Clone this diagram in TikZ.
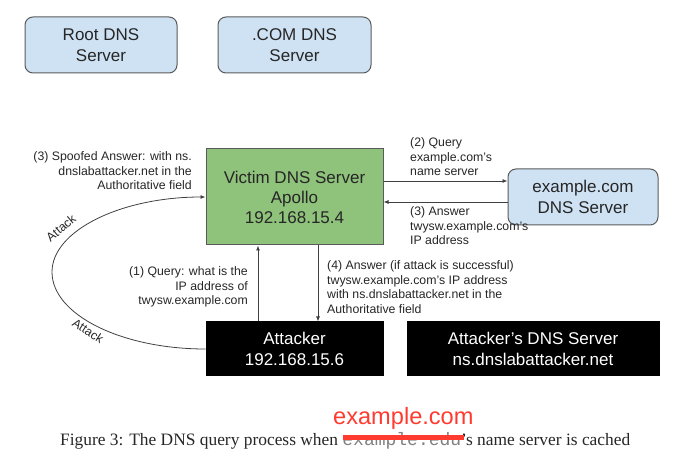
\documentclass[tikz,border=0pt]{standalone}
\usepackage{fontspec}
\setmainfont{Liberation Sans}
\setmonofont{Liberation Mono}
\newfontfamily\capfont{Liberation Serif}
\usetikzlibrary{arrows.meta}
\definecolor{dblue}{HTML}{CFE2F3}
\definecolor{dgreen}{HTML}{8FC27B}
\definecolor{dborder}{HTML}{5A5A5A}
\definecolor{dline}{HTML}{404040}
\definecolor{dtext}{HTML}{262626}
\definecolor{dred}{HTML}{FF3B30}
\definecolor{dgray}{HTML}{808080}
\tikzset{
  srvbox/.style={draw=dborder, fill=dblue, rounded corners=8pt, line width=1pt,
                 align=center, text=dtext, inner sep=0pt,
                 font=\fontsize{17}{21}\selectfont},
  vicbox/.style={draw=dborder, fill=dgreen, line width=1pt,
                 align=center, text=dtext, inner sep=0pt,
                 font=\fontsize{17}{20}\selectfont},
  blkbox/.style={draw=black, fill=black, text=white, line width=1pt,
                 align=center, inner sep=0pt,
                 font=\fontsize{17}{21}\selectfont},
  arr/.style={-{Latex[length=5pt,width=4pt]}, dline, line width=0.8pt},
  lbl/.style={font=\fontsize{12.3}{14.5}\selectfont, text=dtext, inner sep=0pt},
}
\begin{document}
\begin{tikzpicture}[x=1pt, y=-1pt]
  \useasboundingbox (0,0) rectangle (683,462);

  % servers
  \node[srvbox, minimum width=152pt, minimum height=56pt] (root) at (101,45)
    {Root DNS\\Server};
  \node[srvbox, minimum width=153pt, minimum height=56pt] (com) at (294.5,45)
    {.COM DNS\\Server};
  \node[vicbox, minimum width=177pt, minimum height=96pt] (vic) at (294.5,197)
    {Victim DNS Server\\Apollo\\192.168.15.4};
  \node[srvbox, minimum width=150pt, minimum height=56pt] (excom) at (583,197)
    {example.com\\DNS Server};
  \node[blkbox, minimum width=177pt, minimum height=54pt] (att) at (294.5,349)
    {Attacker\\192.168.15.6};
  \node[blkbox, minimum width=252pt, minimum height=54pt] (attdns) at (533,349)
    {Attacker's DNS Server\\ns.dnslabattacker.net};

  % queries and answers
  \draw[arr] ([yshift=16pt]vic.east) -- ([yshift=16pt]excom.west);
  \draw[arr] ([yshift=-5pt]excom.west) -- ([yshift=-5pt]vic.east);
  \draw[arr] ([xshift=-36.5pt]att.north) -- ([xshift=-36.5pt]vic.south);
  \draw[arr] ([xshift=23.5pt]vic.south) -- ([xshift=23.5pt]att.north);

  % spoofed loop
  \coordinate (loop) at (52,272);
  \draw[arr] (att.west) .. controls (121,349) and (52,314.5) .. (loop)
    .. controls (52,230.6) and (121,197) .. (vic.west);
  \node[lbl, rotate=40] (atkup) at (61,228) {Attack};
  \node[lbl, rotate=-33] (atkdown) at (88,331) {Attack};

  \node[lbl, anchor=east, align=right] (spoof) at (192,171)
    {(3) Spoofed Answer: with ns.\\dnslabattacker.net in the\\Authoritative field};
  \node[lbl, anchor=west, align=left] (qry) at (410,157)
    {(2) Query\\example.com's\\name server};
  \node[lbl, anchor=west, align=left] (ans) at (410,226)
    {(3) Answer\\twysw.example.com's\\IP address};
  \node[lbl, anchor=east, align=right] (qone) at (248,287)
    {(1) Query: what is the\\IP address of\\twysw.example.com};
  \node[lbl, anchor=west, align=left] (afour) at (327,287)
    {(4) Answer (if attack is successful)\\twysw.example.com's IP address\\with ns.dnslabattacker.net in the\\Authoritative field};

  % caption with correction
  \node[anchor=base west, inner sep=0pt, text=dtext,
        font=\capfont\fontsize{17.4}{20}\selectfont] (cap) at (60,445)
    {Figure 3: The DNS query process when {\ttfamily\fontsize{18}{20}\selectfont\color{dgray}example.edu}’s name server is cached};
  \draw[dred, line width=5pt] (343,437) -- (464,437);
  \node[anchor=base west, inner sep=0pt, text=dred,
        font=\fontsize{23.6}{26}\selectfont] (fix) at (333,424) {example.com};
\end{tikzpicture}
\end{document}
